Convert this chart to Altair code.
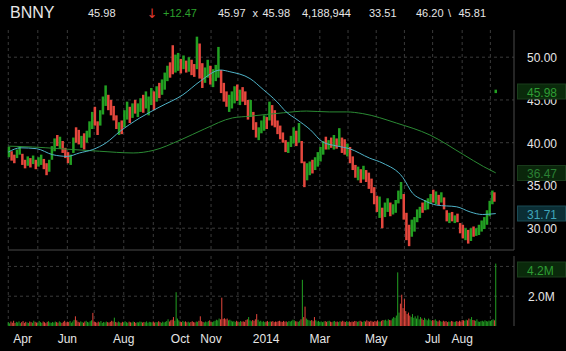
import altair as alt
import pandas as pd

# ---------------- data ----------------
# price bars: one bar per two trading days (last two are single days)
highs = [39.5,39.0,38.6,39.2,39.6,38.7,38.0,38.4,38.2,38.5,
         38.0,38.3,38.6,38.1,37.6,38.0,39.6,40.5,40.9,40.7,
         40.2,39.4,38.9,38.6,40.6,41.8,41.5,40.8,41.1,41.4,
         42.5,43.6,44.2,42.5,43.8,45.4,46.7,45.6,45.0,44.3,
         43.2,42.4,42.6,43.8,44.8,44.2,44.6,45.0,44.6,45.2,
         45.6,46.0,45.4,46.4,46.0,46.6,47.0,47.4,48.2,49.0,
         49.4,51.4,50.3,50.5,49.8,50.2,49.6,50.0,49.7,49.2,
         52.4,51.6,49.3,48.8,49.7,49.0,48.6,49.1,51.2,48.5,
         47.0,46.0,45.6,46.0,46.6,46.8,46.2,46.5,46.0,45.0,
         45.0,43.6,42.4,41.8,42.6,43.2,43.0,44.8,44.4,43.8,
         42.6,42.0,41.2,40.3,40.1,40.8,41.8,41.4,42.3,40.2,
         37.8,37.6,37.8,38.0,38.3,38.9,39.5,40.2,40.7,40.3,
         40.6,40.9,40.5,41.7,40.6,40.4,39.9,39.5,38.4,37.4,
         37.2,36.9,37.3,36.8,36.5,35.8,34.8,33.8,33.7,32.4,
         33.0,33.5,33.0,32.8,33.3,34.4,35.4,34.0,31.8,30.4,
         31.0,31.3,32.2,32.5,33.0,33.3,33.5,34.0,34.5,34.3,
         33.9,34.2,33.6,32.1,31.8,31.9,31.5,31.7,30.6,30.4,
         30.0,29.8,30.0,30.2,30.0,30.4,30.9,31.3,32.1,33.2,
         34.4,34.2,46.2]
lows = [38.3,37.9,37.6,38.2,38.6,37.4,37.0,37.3,37.1,37.5,
        36.9,37.2,37.4,36.9,36.2,36.6,38.0,39.0,39.6,39.3,
        38.8,38.2,37.6,37.4,38.8,40.0,39.8,39.4,39.2,40.0,
        40.6,41.6,42.0,40.9,42.0,43.3,44.3,43.8,43.2,42.6,
        41.6,40.9,41.0,41.8,42.7,42.3,42.9,43.4,43.0,43.6,
        43.5,44.0,43.2,44.4,43.8,44.8,45.2,45.6,46.2,47.2,
        47.6,48.0,48.2,48.4,48.1,48.6,48.2,48.3,47.9,47.7,
        48.6,47.5,46.4,47.0,47.6,46.8,46.5,47.2,47.6,45.8,
        44.8,44.2,43.6,44.0,44.6,44.9,44.4,44.8,44.4,42.7,
        43.0,41.5,40.6,40.3,41.1,41.4,41.6,42.6,42.0,41.8,
        41.0,40.4,40.0,38.9,38.8,39.5,39.9,39.6,40.0,37.6,
        34.8,35.6,36.2,36.4,36.8,37.2,37.8,38.6,39.2,39.2,
        39.4,39.2,39.3,39.6,38.8,38.6,38.4,37.6,36.8,35.9,
        35.6,35.3,35.7,35.4,34.6,34.1,32.8,31.9,31.2,30.0,
        31.3,31.9,31.4,31.6,31.8,32.9,33.4,31.0,28.6,27.9,
        29.0,29.6,30.7,31.2,31.8,32.1,32.2,32.9,33.0,32.8,
        32.7,33.0,32.2,30.8,30.6,30.8,30.6,30.7,29.4,28.8,
        28.6,28.2,28.5,29.0,29.1,29.2,29.6,29.9,30.4,31.4,
        32.8,33.1,45.8]
bar_dirs = ("udduuddudu" "duudduuudu" "ddduuddudu" "uudduuuddd" "duduududuu"
            "duuududuuu" "dduudududd" "udduuduuud" "dduuududdd"
            "udduuududd" "dddduuudud" "duuduuuudu" "dududduddd" "ududddddud"
            "uuduuuuddd" "uuuuduuudu" "duddududdd" "ududuuuuuu" "udu")

# daily volume, thousands of shares
volumes_k = [250,180,300,220,350,200,280,240,310,190,260,330,210,280,240,200,300,260,220,350,
             280,230,200,340,260,210,300,250,190,280,320,240,210,270,230,300,260,220,310,250,
             200,280,350,240,290,260,330,220,300,410,650,380,280,240,310,260,220,300,350,270,
             240,320,380,880,300,260,220,290,250,330,210,270,240,300,260,230,280,350,300,560,
             270,230,300,250,210,280,240,320,260,220,290,250,230,300,270,210,260,240,300,280,
             230,270,250,310,220,280,260,240,300,230,270,250,320,260,210,290,240,280,330,450,
             300,380,420,600,350,2270,500,380,300,260,340,280,310,250,290,230,270,320,260,240,
             300,280,350,650,320,270,240,300,260,330,380,290,260,310,350,420,380,500,450,1900,
             480,520,450,500,380,420,350,300,320,280,350,300,260,330,290,310,280,400,450,600,
             380,320,400,350,450,800,420,300,350,280,320,260,300,340,270,310,290,330,260,300,
             280,320,350,300,270,340,290,310,260,330,300,350,420,380,320,300,280,350,450,3100,
             600,1300,500,420,380,350,400,320,600,380,300,340,280,310,260,300,330,280,320,350,
             290,260,310,340,280,300,260,320,290,350,300,270,330,280,310,260,300,280,340,320,
             280,310,350,300,270,340,300,380,320,290,350,300,280,340,310,380,300,290,350,400,
             380,420,350,450,400,380,500,600,550,700,3600,900,1500,2100,1200,1800,1000,800,900,700,
             600,800,550,650,500,700,450,600,500,400,550,450,380,500,420,350,400,380,450,350,
             300,380,320,280,350,300,330,260,300,280,340,310,270,300,330,280,350,300,400,380,
             350,420,380,500,450,600,400,380,350,450,300,280,320,350,300,380,330,300,360,340,
             400,450,380,4190]
vol_dir_override = {50: 'd', 63: 'd', 79: 'u', 123: 'd', 125: 'u', 143: 'd', 159: 'd',
                    179: 'u', 185: 'd', 219: 'u', 221: 'd', 228: 'd', 290: 'u', 292: 'd',
                    293: 'd', 295: 'd', 363: 'u'}

ma50_day = [0, 9, 21, 33, 44, 53, 63, 73, 83, 98, 113, 130, 143, 158, 165, 180, 190, 200,
            207, 215, 225, 234, 245, 254, 269, 279, 294, 301, 309, 319, 334, 344, 353, 363]
ma50_val = [38.9, 39.4, 39.3, 38.6, 38.4, 38.8, 39.2, 40.0, 41.3, 42.9, 44.2, 45.6, 47.2, 48.5,
            48.3, 47.5, 46.2, 44.8, 43.6, 42.7, 41.5, 40.1, 39.6, 39.3, 38.2, 37.6, 35.9, 34.1,
            33.3, 32.7, 32.5, 31.9, 31.6, 31.71]
ma200_day = [0, 18, 38, 68, 93, 108, 128, 146, 167, 180, 205, 222, 239, 252, 264, 289, 314,
             339, 354, 363]
ma200_val = [39.6, 39.5, 39.3, 39.0, 38.8, 39.1, 40.3, 41.6, 42.9, 43.1, 43.5, 43.7, 43.6,
             43.6, 43.4, 42.3, 40.9, 38.6, 37.2, 36.47]

month_start_day = [0, 22, 44, 64, 86, 108, 128, 151, 171, 192, 213, 232, 253, 274, 295, 316, 338, 359]
month_label_day = [0, 44, 86, 128, 151, 192, 232, 274, 316, 338]
month_labels = ["Apr", "Jun", "Aug", "Oct", "Nov", "2014", "Mar", "May", "Jul", "Aug"]
price_ticks = [30, 35, 40, 45, 50]
price_tick_labels = ["30.00", "35.00", "40.00", "45.00", "50.00"]
vol_ticks = [2.0, 4.0]
vol_tick_labels = ["2.0M", "4.0M"]

last_price = 45.98
ma200_last = 36.47
ma50_last = 31.71
last_volume_m = 4.188944

# ---------------- styling ----------------
GREEN = "#22a022"
RED = "#e5473d"
CYAN = "#4fb3c8"
MAGREEN = "#2b8a34"
GRID = "#3a3a3a"
BORDER = "#4a4a4a"
TEXT = "#e6e6e6"
FONT = "Liberation Sans"
PW, PH, VTOP, VBOT = 506, 220, 226, 296

XS = alt.Scale(domain=[-0.2, 376.6], nice=False, zero=False)
PS = alt.Scale(domain=[27.45, 53.18], range=[PH, 0], nice=False, zero=False)
VS = alt.Scale(domain=[0, 4.70], range=[VBOT, VTOP], nice=False, zero=False)
CS = alt.Scale(domain=['u', 'd'], range=[GREEN, RED])


def xq(f):
    return alt.X(f, type='quantitative', scale=XS, axis=None)


def one():
    return pd.DataFrame({'k': [0]})


bar_day = [2 * k + 0.5 for k in range(181)] + [362, 363]
price_df = pd.DataFrame({'day': bar_day, 'high': highs, 'low': lows, 'dir': list(bar_dirs)})

vdays = list(range(len(volumes_k)))
vdir = []
for d in vdays:
    k = d // 2 if d < 362 else 181 + (d - 362)
    vdir.append(vol_dir_override.get(d, bar_dirs[k]))
vol_df = pd.DataFrame({'day': vdays, 'vol': [v / 1000 for v in volumes_k], 'dir': vdir})

layers = []

# grid
layers.append(alt.Chart(pd.DataFrame({'p': price_ticks})).mark_rule(color=GRID, strokeDash=[3, 3]).encode(
    y=alt.Y('p:Q', scale=PS, axis=None), x=alt.value(0), x2=alt.value(PW)))
layers.append(alt.Chart(pd.DataFrame({'v': vol_ticks})).mark_rule(color=GRID, strokeDash=[3, 3]).encode(
    y=alt.Y('v:Q', scale=VS, axis=None), x=alt.value(0), x2=alt.value(PW)))
layers.append(alt.Chart(pd.DataFrame({'d': month_start_day})).mark_rule(color=GRID, strokeDash=[3, 3]).encode(
    x=xq('d'), y=alt.value(0), y2=alt.value(PH)))
layers.append(alt.Chart(pd.DataFrame({'d': month_start_day})).mark_rule(color=GRID, strokeDash=[3, 3]).encode(
    x=xq('d'), y=alt.value(VTOP), y2=alt.value(VBOT)))

# borders
layers.append(alt.Chart(one()).mark_rule(color=BORDER).encode(
    x=alt.value(0), x2=alt.value(PW), y=alt.value(PH)))
layers.append(alt.Chart(one()).mark_rule(color=BORDER).encode(
    x=alt.value(PW), y=alt.value(0), y2=alt.value(PH)))
layers.append(alt.Chart(one()).mark_rule(color=BORDER).encode(
    x=alt.value(PW), y=alt.value(VTOP), y2=alt.value(VBOT)))

# price bars
layers.append(alt.Chart(price_df).mark_rule(strokeWidth=2.5).encode(
    x=xq('day'), y=alt.Y('low:Q', scale=PS, axis=None), y2='high:Q',
    color=alt.Color('dir:N', scale=CS, legend=None)))

# moving averages
layers.append(alt.Chart(pd.DataFrame({'d': ma200_day, 'v': ma200_val})).mark_line(
    color=MAGREEN, strokeWidth=1, interpolate='monotone').encode(
    x=xq('d'), y=alt.Y('v:Q', scale=PS, axis=None)))
layers.append(alt.Chart(pd.DataFrame({'d': ma50_day, 'v': ma50_val})).mark_line(
    color=CYAN, strokeWidth=1, interpolate='monotone').encode(
    x=xq('d'), y=alt.Y('v:Q', scale=PS, axis=None)))

# volume
layers.append(alt.Chart(vol_df).mark_rule(strokeWidth=1).encode(
    x=xq('day'), y=alt.Y('vol:Q', scale=VS, axis=None), y2=alt.datum(0),
    color=alt.Color('dir:N', scale=CS, legend=None)))

# right axis labels
layers.append(alt.Chart(pd.DataFrame({'p': price_ticks, 't': price_tick_labels})).mark_text(
    align='left', baseline='middle', font=FONT, fontSize=12, color=TEXT, dy=1).encode(
    y=alt.Y('p:Q', scale=PS, axis=None), x=alt.value(519), text='t:N'))
layers.append(alt.Chart(pd.DataFrame({'v': vol_ticks, 't': vol_tick_labels})).mark_text(
    align='left', baseline='middle', font=FONT, fontSize=12, color=TEXT, dy=1).encode(
    y=alt.Y('v:Q', scale=VS, axis=None), x=alt.value(520), text='t:N'))

# value boxes
box_specs = [
    (last_price, f"{last_price:.2f}", PS, "#2f9e34", "#0a2a0b", "#1a3d1c", 0),
    (ma200_last, f"{ma200_last:.2f}", PS, "#2a8034", "#0a260b", "#193a1b", 0),
    (ma50_last, f"{ma50_last:.2f}", PS, "#3fa6bb", "#0b2e35", "#1a4a54", 0),
    (last_volume_m, f"{last_volume_m:.1f}M", VS, "#2f9e34", "#0a2a0b", "#1a3d1c", 6),
]
for val, lab, sc, tcol, fill, edge, off in box_specs:
    d = pd.DataFrame({'v': [val], 't': [lab]})
    layers.append(alt.Chart(d).mark_rule(color=edge, strokeWidth=16, strokeCap='butt', yOffset=off).encode(
        y=alt.Y('v:Q', scale=sc, axis=None), x=alt.value(509), x2=alt.value(558)))
    layers.append(alt.Chart(d).mark_rule(color=fill, strokeWidth=14, strokeCap='butt', yOffset=off).encode(
        y=alt.Y('v:Q', scale=sc, axis=None), x=alt.value(510), x2=alt.value(557)))
    layers.append(alt.Chart(d).mark_text(align='left', baseline='middle', font=FONT, fontSize=12,
                                         color=tcol, dy=1 + off).encode(
        y=alt.Y('v:Q', scale=sc, axis=None), x=alt.value(519), text='t:N'))

# x labels
xl = pd.DataFrame({'d': month_label_day, 't': month_labels})
layers.append(alt.Chart(xl.iloc[:1]).mark_text(align='left', baseline='alphabetic', font=FONT,
                                               fontSize=12, color=TEXT, dx=5).encode(
    x=xq('d'), y=alt.value(312.5), text='t:N'))
layers.append(alt.Chart(xl.iloc[1:]).mark_text(align='center', baseline='alphabetic', font=FONT,
                                               fontSize=12, color=TEXT).encode(
    x=xq('d'), y=alt.value(312.5), text='t:N'))

# header
header = [("BNNY", 2, 16, TEXT, -11.7, FONT),
          ("45.98", 80, 11, TEXT, -12.7, FONT),
          ("\u2193", 138.5, 13, "#e03a30", -12.2, "DejaVu Sans"),
          ("+12.47", 155, 11, "#2ca02c", -12.7, FONT),
          ("45.97", 210, 11, TEXT, -12.7, FONT),
          ("x", 244.5, 11, TEXT, -12.7, FONT),
          ("45.98", 254.5, 11, TEXT, -12.7, FONT),
          ("4,188,944", 294, 11, TEXT, -12.7, FONT),
          ("33.51", 361, 11, TEXT, -12.7, FONT),
          ("46.20", 408, 11, TEXT, -12.7, FONT),
          ("\\", 440, 11, TEXT, -12.7, FONT),
          ("45.81", 450.5, 11, TEXT, -12.7, FONT)]
for t, x, fs, col, y, fnt in header:
    layers.append(alt.Chart(one()).mark_text(align='left', baseline='alphabetic', font=fnt,
                                             fontSize=fs, color=col).encode(
        x=alt.value(x), y=alt.value(y), text=alt.value(t)))

chart = alt.layer(*layers).resolve_scale(y='independent').properties(
    width=PW, height=VBOT,
    padding={'left': 8, 'top': 30, 'right': 52, 'bottom': 25},
    autosize=alt.AutoSizeParams(type='none'),
    background='#000000',
).configure_view(strokeWidth=0)

chart.save("out.html", embed_options={"renderer": "svg", "actions": False})
